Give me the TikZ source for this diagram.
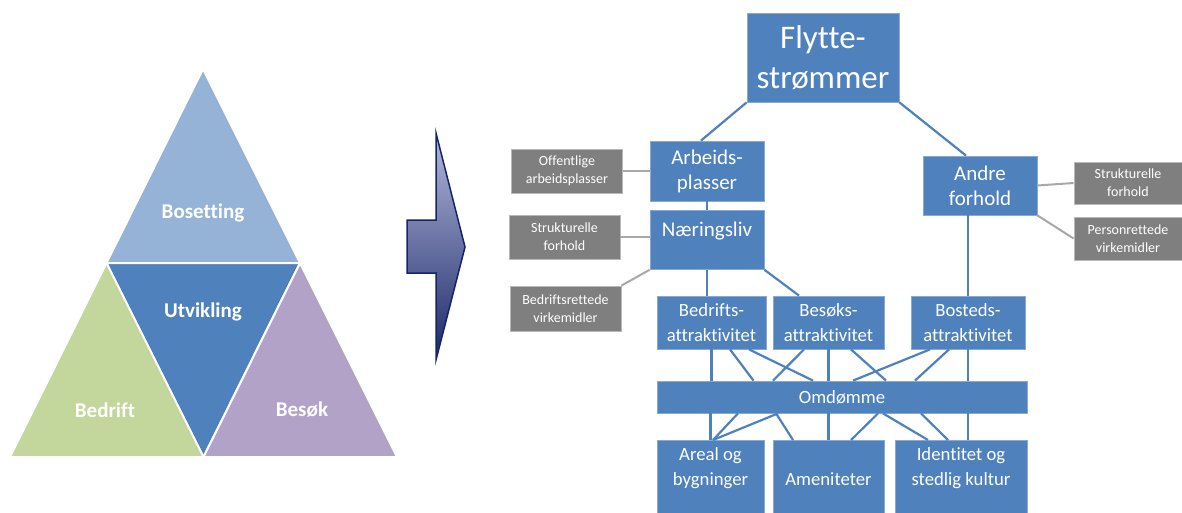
\documentclass[tikz,border=0pt]{standalone}
\usepackage{fontspec}
\setmainfont{Carlito}[Ligatures=NoCommon]
\definecolor{boxblue}{HTML}{4F81BD}
\definecolor{boxline}{HTML}{86A9D6}
\definecolor{greyfill}{HTML}{7F7F7F}
\definecolor{greyline}{HTML}{A8A8A8}
\definecolor{tritop}{HTML}{95B3D7}
\definecolor{trigreen}{HTML}{C3D69B}
\definecolor{triviolet}{HTML}{B2A2C7}
\definecolor{arrtop}{HTML}{B3B8D9}
\definecolor{arrbot}{HTML}{1A2868}
\definecolor{arrline}{HTML}{15246A}
\tikzset{
  flowbox/.style={rectangle, fill=boxblue, draw=boxline, line width=0.8pt, text=white, align=center, inner sep=0pt},
  greybox/.style={rectangle, fill=greyfill, draw=greyline!80!white, line width=0.8pt, text=white, align=center, inner sep=0pt,
    minimum width=111pt, minimum height=44pt, font=\fontsize{14}{18}\selectfont},
  bline/.style={draw=boxblue, line width=2.2pt},
  gline/.style={draw=greyline, line width=2pt},
  trilabel/.style={text=white, font=\fontsize{21}{25}\selectfont\bfseries},
}
\begin{document}
\begin{tikzpicture}[x=1pt,y=-1pt]
	\useasboundingbox (0,0) rectangle (1182,513);
	\clip (0,0) rectangle (1182,513);

	% triangle
	\filldraw[fill=tritop, draw=white, line width=2pt, line join=round] (203,69) -- (300,263) -- (106.5,263) -- cycle;
	\filldraw[fill=boxblue, draw=white, line width=2pt, line join=round] (106.5,263) -- (300,263) -- (203.5,457) -- cycle;
	\filldraw[fill=trigreen, draw=white, line width=2pt, line join=round] (106.5,263) -- (203.5,457) -- (10,457) -- cycle;
	\filldraw[fill=triviolet, draw=white, line width=2pt, line join=round] (300,263) -- (397,457) -- (203.5,457) -- cycle;
	\node[trilabel] (bosetting) at (203,213) {Bosetting};
	\node[trilabel] (utvikling) at (203,312) {Utvikling};
	\node[trilabel] (bedrift) at (105,410) {Bedrift};
	\node[trilabel] (besoek) at (302,410) {Besøk};

	% arrow
	\shadedraw[top color=arrtop, bottom color=arrbot, draw=arrline, line width=1.5pt]
		(436,133) -- (465,247) -- (436,360) -- (436,273) -- (407,273) -- (407,220) -- (436,220) -- cycle;

	% chart
	\node[flowbox, minimum width=152pt, minimum height=89pt, font=\fontsize{33}{40}\selectfont] (flytte) at (823,57.5) {Flytte-\\strømmer};
	\node[flowbox, minimum width=114pt, minimum height=60pt, font=\fontsize{21}{25}\selectfont] (arbeid) at (707,171) {Arbeids-\\plasser};
	\node[flowbox, minimum width=114pt, text height=26pt, text depth=33pt, anchor=north, font=\fontsize{21}{25}\selectfont] (naering) at (707,210) {Næringsliv};
	\node[flowbox, minimum width=114pt, minimum height=59pt, font=\fontsize{21}{25}\selectfont] (andre) at (980,185.5) {Andre\\forhold};

	\node[greybox] (offentl) at (567,171) {Offentlige\\arbeidsplasser};
	\node[greybox] (strukl) at (564.5,237) {Strukturelle\\forhold};
	\node[greybox, minimum height=45pt] (bedrv) at (565.5,308.5) {Bedriftsrettede\\virkemidler};
	\node[greybox, minimum width=108pt, minimum height=42pt] (strukr) at (1128,183) {Strukturelle\\forhold};
	\node[greybox, minimum width=108pt, minimum height=43pt] (persr) at (1128,238.5) {Personrettede\\virkemidler};

	\node[flowbox, minimum width=109pt, minimum height=53pt, font=\fontsize{18.7}{24.5}\selectfont] (bedr) at (711.5,322.5) {Bedrifts-\\attraktivitet};
	\node[flowbox, minimum width=111pt, minimum height=53pt, font=\fontsize{18.7}{24.5}\selectfont] (besok) at (828.5,322.5) {Besøks-\\attraktivitet};
	\node[flowbox, minimum width=114pt, minimum height=53pt, font=\fontsize{18.7}{24.5}\selectfont] (bost) at (968,322.5) {Bosteds-\\attraktivitet};
	\node[flowbox, minimum width=370pt, minimum height=32pt, font=\fontsize{18.7}{24.5}\selectfont] (omd) at (842,397) {Omdømme};

	\node[flowbox, minimum width=107pt, text height=45pt, text depth=40pt, anchor=north, font=\fontsize{18.7}{24.5}\selectfont] (areal) at (710.5,440) {Areal og\\bygninger};
	\node[flowbox, minimum width=111pt, text height=45pt, text depth=40pt, anchor=north, font=\fontsize{18.7}{24.5}\selectfont] (amen) at (828.5,440) {Ameniteter};
	\node[flowbox, minimum width=132pt, text height=45pt, text depth=40pt, anchor=north, font=\fontsize{18.7}{24.5}\selectfont] (ident) at (961,440) {Identitet og\\stedlig kultur};

	\draw[bline] (flytte.south west) -- (701,0 |- arbeid.north);
	\draw[bline] (flytte.south east) -- (966,0 |- andre.north);
	\draw[bline] (arbeid.south) -- (naering.north);
	\draw[bline] (naering.south) -- (naering.south |- bedr.north);
	\draw[bline] (naering.south east) -- (799,0 |- besok.north);
	\draw[bline] (bost.north |- andre.south) -- (bost.north);

	\draw[gline] (offentl.east) -- (arbeid.west);
	\draw[gline] (strukl.east) -- (strukl.east -| naering.west);
	\draw[gline] (bedrv.north east) -- (naering.south west);
	\draw[gline] (andre.east) -- (strukr.west);
	\draw[gline] (andre.south east) -- (persr.west);

	\foreach \a/\b in {711.5/711.5, 730/753.5, 749/813}
		\draw[bline] (\a,0 |- bedr.south) -- (\b,0 |- omd.north);
	\foreach \a/\b in {804/773, 828.5/828.5, 851/886}
		\draw[bline] (\a,0 |- besok.south) -- (\b,0 |- omd.north);
	\foreach \a/\b in {930/853, 949/915, 968/968}
		\draw[bline] (\a,0 |- bost.south) -- (\b,0 |- omd.north);

	\foreach \a/\b in {710.5/710.5, 738/713, 778/713}
		\draw[bline] (\a,0 |- omd.south) -- (\b,0 |- areal.north);
	\foreach \a/\b in {776/793, 828.5/828.5, 878/851}
		\draw[bline] (\a,0 |- omd.south) -- (\b,0 |- amen.north);
	\foreach \a/\b in {883/928, 921/948, 968/968}
		\draw[bline] (\a,0 |- omd.south) -- (\b,0 |- ident.north);
\end{tikzpicture}
\end{document}
